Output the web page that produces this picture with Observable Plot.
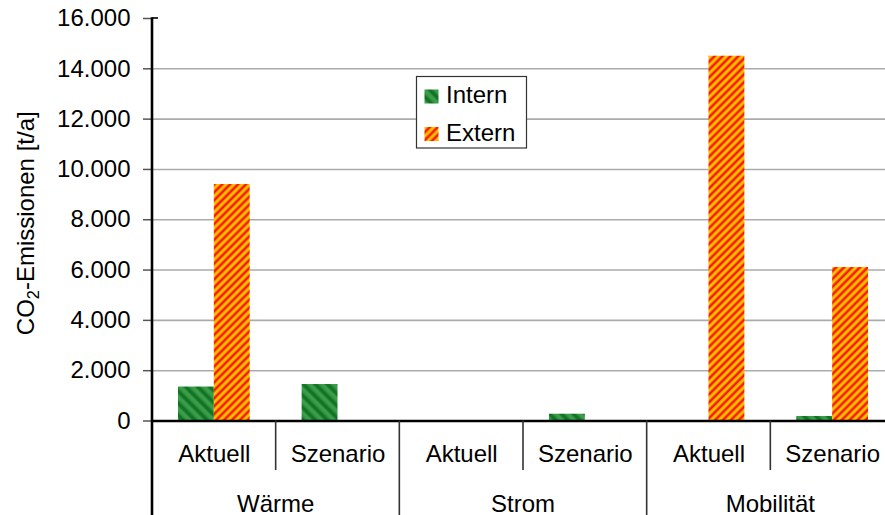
<!DOCTYPE html>
<html><head><meta charset="utf-8">
<script src="https://cdn.jsdelivr.net/npm/d3@7"></script>
<script src="https://cdn.jsdelivr.net/npm/@observablehq/plot@0.6"></script>
<style>
html,body{margin:0;padding:0;overflow:hidden;background:#fff;}
#chart{position:relative;width:885px;height:515px;overflow:hidden;}
#chart svg{display:block;max-width:none !important;}
</style></head><body><div id="chart"></div>
<script>
// ---- data ----
const groups = ["Wärme", "Strom", "Mobilität"];
const scenarios = ["Aktuell", "Szenario"];
const seriesNames = ["Intern", "Extern"];
const internValues = [1350, 1450, 0, 270, 0, 180];
const externValues = [9400, 0, 0, 0, 14500, 6100];
const yTicks = [0, 2000, 4000, 6000, 8000, 10000, 12000, 14000, 16000];
const yLabelMain = "CO";
const yLabelSub = "2";
const yLabelRest = "-Emissionen [t/a]";

const combos = groups.flatMap(g => scenarios.map(s => g + "|" + s));
const data = combos.flatMap((k, i) => [
  {key: k, series: seriesNames[0], value: internValues[i]},
  {key: k, series: seriesNames[1], value: externValues[i]}
]);

// ---- layout ----
const W = 894, H = 515, ML = 152, MR = 0, MT = 18, MB = 94.5;
const PI = 0.42;
const step = (W - ML - MR) / combos.length;
const half = step * (1 - PI) / 2;
const FONT = "'Liberation Sans', Arial, sans-serif";
const FS = 24;
const fmt = d => d3.format(",")(d).replace(/,/g, ".");

const chart = Plot.plot({
  width: W, height: H,
  marginLeft: ML, marginRight: MR, marginTop: MT, marginBottom: MB,
  style: {fontFamily: FONT, fontSize: FS + "px", color: "#000", background: "#fff", overflow: "visible", maxWidth: "none"},
  x: {domain: combos, paddingInner: PI, paddingOuter: PI / 2, round: false, axis: null},
  y: {domain: [0, 16000], axis: null},
  marks: [
    Plot.gridY(yTicks.filter(d => d > 0 && d < 16000), {stroke: "#ababab", strokeOpacity: 1, strokeWidth: 1.6}),
    Plot.barY(data.filter(d => d.series === "Intern"), {x: "key", y: "value", fill: "url(#pat-intern)", insetLeft: 0, insetRight: half}),
    Plot.barY(data.filter(d => d.series === "Extern"), {x: "key", y: "value", fill: "url(#pat-extern)", insetLeft: half, insetRight: 0}),
    Plot.axisY(yTicks, {anchor: "left", tickSize: 9, tickPadding: 13, tickFormat: fmt, stroke: "#555", strokeWidth: 1.5, fill: "#000", label: null}),
    Plot.axisX(combos, {anchor: "bottom", tickSize: 0, tickPadding: 24, tickFormat: d => d.split("|")[1], fill: "#000", label: null}),
    Plot.ruleY([0], {stroke: "#000", strokeWidth: 2.6})
  ]
});
chart.style.maxWidth = "none";
chart.style.height = H + "px";
chart.style.width = W + "px";

document.getElementById("chart").appendChild(chart);
const svg = d3.select(chart);

// patterns
const defs = svg.insert("defs", ":first-child");
const pi = defs.append("pattern").attr("id", "pat-intern").attr("patternUnits", "userSpaceOnUse")
  .attr("width", 8.5).attr("height", 8.5).attr("patternTransform", "rotate(-45)");
pi.append("rect").attr("x", 0).attr("y", 0).attr("width", 8.5).attr("height", 8.5).attr("fill", "#3d9c48");
pi.append("rect").attr("x", 0).attr("y", 0).attr("width", 1).attr("height", 8.5).attr("fill", "#24883a");
pi.append("rect").attr("x", 1).attr("y", 0).attr("width", 3.2).attr("height", 8.5).attr("fill", "#0f7424");
pi.append("rect").attr("x", 4.2).attr("y", 0).attr("width", 1).attr("height", 8.5).attr("fill", "#24883a");

const pe = defs.append("pattern").attr("id", "pat-extern").attr("patternUnits", "userSpaceOnUse")
  .attr("width", 5.6).attr("height", 5.6).attr("patternTransform", "rotate(45)");
pe.append("rect").attr("x", 0).attr("y", 0).attr("width", 5.6).attr("height", 5.6).attr("fill", "#ffc400");
pe.append("rect").attr("x", 0).attr("y", 0).attr("width", 0.8).attr("height", 5.6).attr("fill", "#ff7a00");
pe.append("rect").attr("x", 0.8).attr("y", 0).attr("width", 2.1).attr("height", 5.6).attr("fill", "#f51a00");
pe.append("rect").attr("x", 2.9).attr("y", 0).attr("width", 0.8).attr("height", 5.6).attr("fill", "#ff7a00");

// frame lines and separators from the x scale
const xs = chart.scale("x");
const ys = chart.scale("y");
const y0 = ys.apply(0);
const gap = (xs.step - xs.bandwidth) / 2;
const g = svg.append("g");
for (let i = 1; i < combos.length; i++) {
  const x = xs.apply(combos[i]) - gap;
  const isGroup = i % scenarios.length === 0;
  g.append("line").attr("x1", x).attr("x2", x).attr("y1", y0).attr("y2", isGroup ? H : 470)
    .attr("stroke", "#333").attr("stroke-width", 1.6);
}
// y axis line
g.append("line").attr("x1", ML).attr("x2", ML).attr("y1", ys.apply(16000) - 0.8).attr("y2", H)
  .attr("stroke", "#000").attr("stroke-width", 2.6);
g.append("line").attr("x1", ML).attr("x2", ML + 6).attr("y1", ys.apply(16000)).attr("y2", ys.apply(16000))
  .attr("stroke", "#000").attr("stroke-width", 1.6);

// group labels
groups.forEach(gr => {
  const a = xs.apply(gr + "|" + scenarios[0]);
  const b = xs.apply(gr + "|" + scenarios[scenarios.length - 1]) + xs.bandwidth;
  svg.append("text").attr("x", (a + b) / 2).attr("y", 511.5).attr("text-anchor", "middle")
    .attr("font-family", FONT).attr("font-size", FS).attr("fill", "#000").text(gr);
});

// y label
const yl = svg.append("text").attr("transform", `translate(33.5,${(MT + y0) / 2 + 4}) rotate(-90)`)
  .attr("text-anchor", "middle").attr("font-family", FONT).attr("font-size", FS).attr("fill", "#000");
yl.append("tspan").text(yLabelMain);
yl.append("tspan").attr("font-size", FS * 0.68).attr("dy", 5).text(yLabelSub);
yl.append("tspan").attr("dy", -5).text(yLabelRest);

// legend
const lg = svg.append("g").attr("text-anchor", "start");
lg.append("rect").attr("x", 416.5).attr("y", 76.5).attr("width", 110).attr("height", 71.5)
  .attr("fill", "#fff").attr("stroke", "#333").attr("stroke-width", 1.2);
const legendItems = [{name: seriesNames[0], fill: "url(#pat-intern)", y: 89.5, by: 103},
                     {name: seriesNames[1], fill: "url(#pat-extern)", y: 127, by: 141}];
legendItems.forEach(it => {
  lg.append("rect").attr("x", 424.5).attr("y", it.y).attr("width", 14).attr("height", 14).attr("fill", it.fill);
  lg.append("text").attr("x", 446).attr("y", it.by).attr("text-anchor", "start").attr("font-family", FONT).attr("font-size", FS)
    .attr("fill", "#000").text(it.name);
});
</script></body></html>
